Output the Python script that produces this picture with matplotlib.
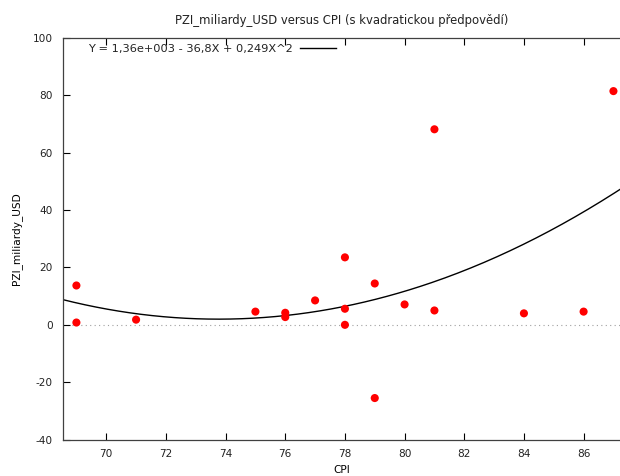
import matplotlib
matplotlib.use("Agg")
import matplotlib.pyplot as plt
import numpy as np

# -----------------------------
# Data
# -----------------------------
cpi = [69, 69, 71, 75, 76, 76, 77, 78, 78, 78, 79, 79, 80, 81, 81, 84, 86, 87]
pzi = [13.7, 0.8, 1.8, 4.6, 4.2, 2.7, 8.5, 23.5, 5.6, 0.0, 14.4, -25.5, 7.1, 68.1, 5.0, 4.0, 4.6, 81.4]

legend_text = "Y = 1,36e+003 - 36,8X + 0,249X^2"

x_lo, x_hi = 68.54, 87.22

# quadratic fit through the data (like gretl does)
coef = np.polyfit(cpi, pzi, 2)
xs = np.linspace(x_lo, x_hi, 300)
ys = np.polyval(coef, xs)

plt.rcParams["font.family"] = ["DejaVu Sans"]
plt.rcParams["font.size"] = 7.6
plt.rcParams["text.color"] = "#222222"
plt.rcParams["axes.unicode_minus"] = False

fig = plt.figure(figsize=(6.2, 4.76), dpi=100)
ax = fig.add_axes([0.1011, 0.0763, 0.8989, 0.8445])

ax.axhline(0, color="#a0a0a0", lw=0.8, ls=(0, (1, 3)), zorder=1)
ax.scatter(cpi, pzi, s=34, color="#ff0000", edgecolors="none", zorder=3, clip_on=False)
ax.plot(xs, ys, color="black", lw=1.0, zorder=2, label=legend_text)

ax.set_xlim(x_lo, x_hi)
ax.set_ylim(-40, 100)
ax.set_xticks(np.arange(70, 87, 2))
ax.set_yticks(np.arange(-40, 101, 20))
ax.tick_params(direction="in", top=True, right=False, length=5, width=0.8,
               pad=7, labelcolor="#222222")
ax.spines["right"].set_visible(False)
for s in ax.spines.values():
    s.set_linewidth(0.9)
    s.set_color("#404040")

ax.set_xlabel("CPI", labelpad=4)
ax.set_ylabel("PZI_miliardy_USD", labelpad=8)
ax.set_title("PZI_miliardy_USD versus CPI (s kvadratickou předpovědí)", pad=10, fontsize=8.4)

leg = ax.legend(loc="upper left", frameon=False, markerfirst=False, fontsize=8.2,
                handlelength=3.2, handletextpad=0.6, borderaxespad=0.15,
                bbox_to_anchor=(0.035, 1.0))

fig.savefig("out.png", dpi=100)
